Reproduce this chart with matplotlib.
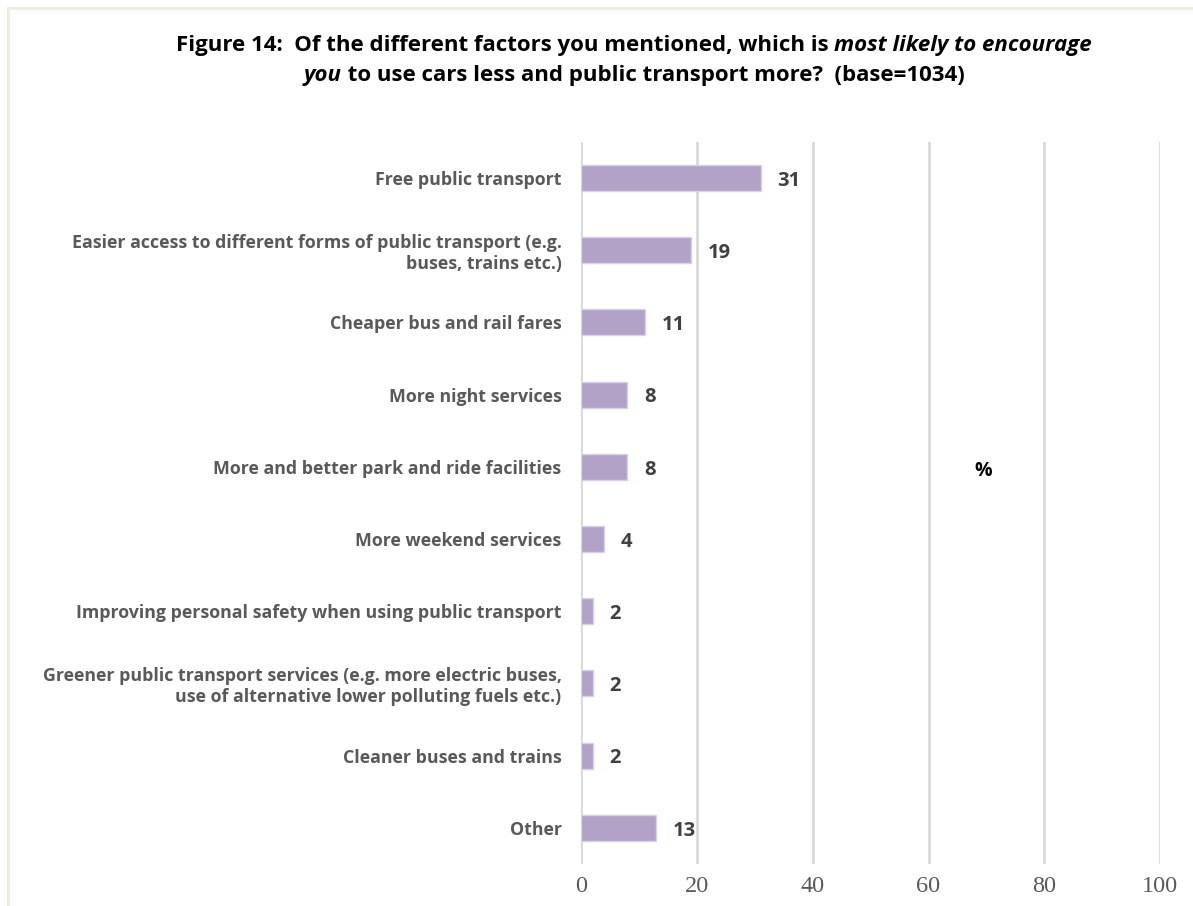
import matplotlib.pyplot as plt
from matplotlib.patches import Rectangle

categories = [
    "Free public transport",
    "Easier access to different forms of public transport (e.g.\nbuses, trains etc.)",
    "Cheaper bus and rail fares",
    "More night services",
    "More and better park and ride facilities",
    "More weekend services",
    "Improving personal safety when using public transport",
    "Greener public transport services (e.g. more electric buses,\nuse of alternative lower polluting fuels etc.)",
    "Cleaner buses and trains",
    "Other",
]
values = [31, 19, 11, 8, 8, 4, 2, 2, 2, 13]
xticks = [0, 20, 40, 60, 80, 100]

title_line1 = [("Figure 14:  Of the different factors you mentioned, which is ", "normal"),
               ("most likely to encourage", "italic")]
title_line2 = [("you", "italic"),
               (" to use cars less and public transport more?  (base=1034)", "normal")]

fig = plt.figure(figsize=(11.93, 9.06), dpi=100)
ax = fig.add_axes([0.487, 0.0464, 0.4855, 0.7969])

# light frame around the chart area
fig.patches.append(Rectangle((8 / 1193, -0.01), 1.02, 1 - 8 / 906 + 0.01,
                             transform=fig.transFigure, fill=False,
                             edgecolor="#EEEBDF", linewidth=2))

y = range(len(categories))
ax.barh(y, values, height=0.36, color="#B3A2C7", edgecolor="#D9CFE6", linewidth=1, zorder=3)

for yi, v in zip(y, values):
    ax.annotate(str(v), (v, yi), xytext=(12, -2), textcoords="offset points",
                va="center", ha="left", fontsize=14.5, fontweight="bold",
                color="#404040", family="Open Sans")

ax.set_xlim(0, 100)
ax.set_ylim(len(categories) - 0.5, -0.5)
ax.set_xticks(xticks)
ax.set_xticklabels([str(t) for t in xticks], family="Liberation Serif",
                   fontsize=17.5, color="#595959")
ax.set_yticks(list(y))
ax.set_yticklabels(categories, family="Open Sans", fontweight="bold",
                   fontsize=12.8, color="#595959", ha="right", linespacing=1.2)
ax.tick_params(axis="both", length=0)
ax.tick_params(axis="y", pad=14)
ax.tick_params(axis="x", pad=9)
ax.xaxis.grid(True, color="#D9D9D9", linewidth=2)
ax.set_axisbelow(True)
for s in ax.spines.values():
    s.set_visible(False)

fig.text(983 / 1193, 1 - 471 / 906, "%", ha="center", va="center",
         fontsize=14, fontweight="bold", family="Open Sans", color="black")

# two-line title with italic segments, centred per line
renderer = fig.canvas.get_renderer()
for line, ypx in ((title_line1, 45), (title_line2, 76)):
    parts = []
    for txt, style in line:
        parts.append(fig.text(0, 1 - ypx / 906, txt, fontsize=16, fontweight="bold",
                              style=style, family="Open Sans", color="black",
                              va="center", ha="left"))
    widths = [p.get_window_extent(renderer).width for p in parts]
    x0 = 634 - sum(widths) / 2
    for p, w in zip(parts, widths):
        p.set_x(x0 / 1193)
        x0 += w

fig.savefig("out.png", dpi=100)
